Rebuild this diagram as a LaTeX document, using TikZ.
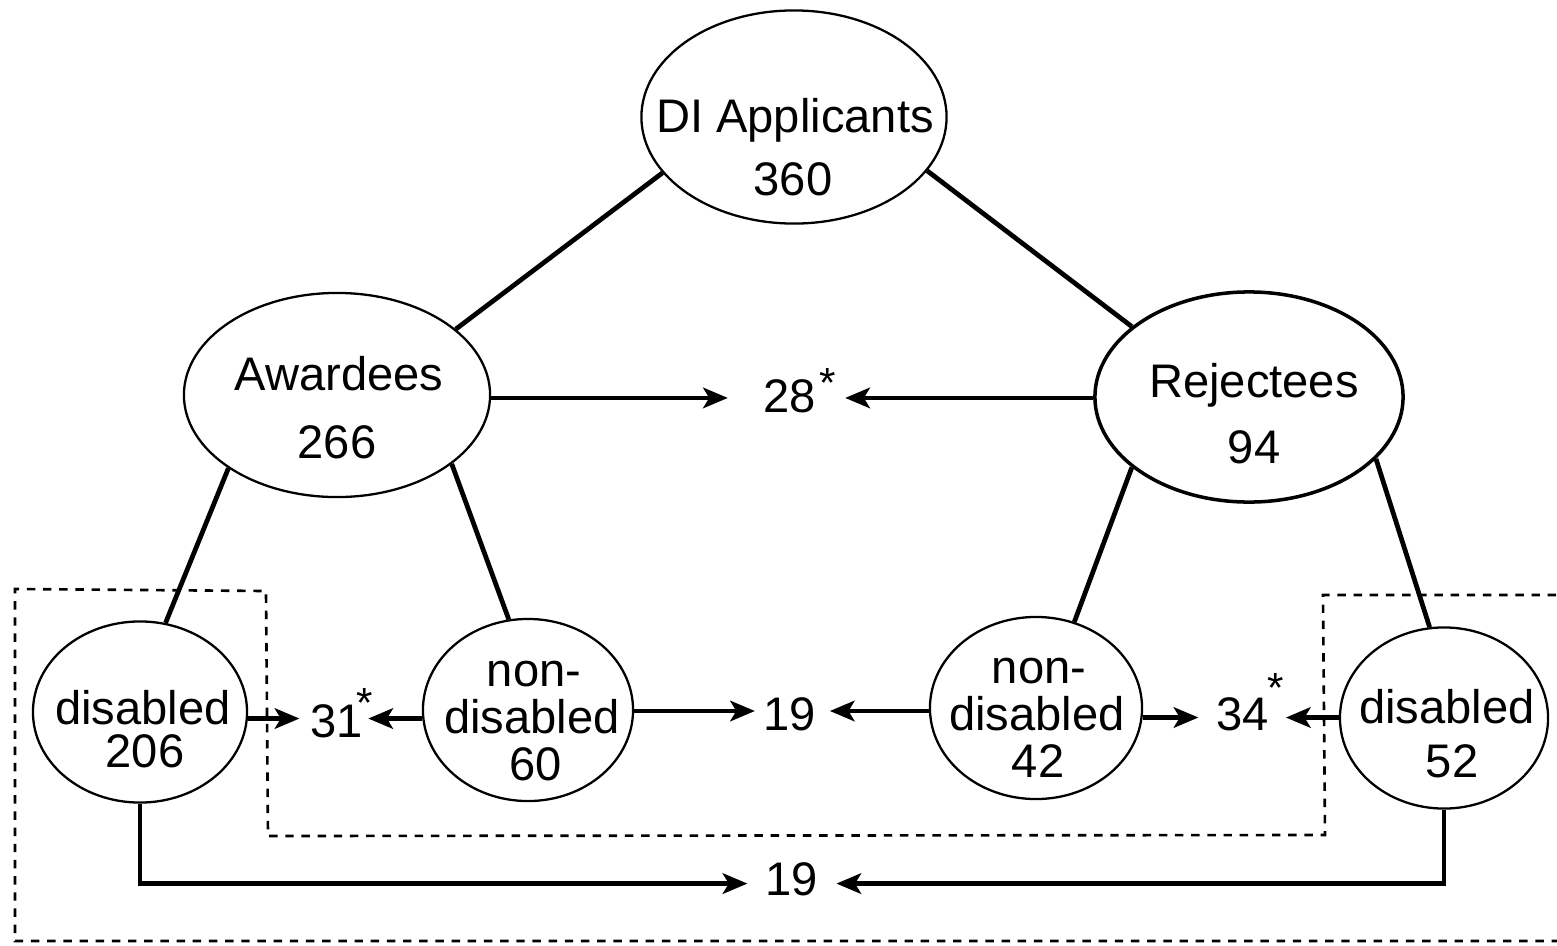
\documentclass[tikz,border=0pt]{standalone}
\usepackage{fontspec}
\setmainfont{Liberation Sans}
\usetikzlibrary{shapes.geometric,arrows.meta}
\newcommand{\supst}[2]{\kern#2\raisebox{#1}{\fontsize{12}{12}\selectfont *}}
\begin{document}
\begin{tikzpicture}[x=0.01cm,y=-0.01cm,
  ell/.style={ellipse,draw,line width=0.65pt,inner sep=0pt},
  lbl/.style={anchor=base,inner sep=0pt,font=\fontsize{13.4}{15}\selectfont},
  num/.style={anchor=base west,inner sep=0pt,font=\fontsize{13.4}{15}\selectfont,text depth=0pt},
  conn/.style={line width=1.35pt},
  arr/.style={line width=1.35pt,-{Stealth[length=7pt,width=5.8pt,inset=1.7pt]}},
  dashbox/.style={line width=0.75pt,dash pattern=on 2.4pt off 2.2pt}]
\useasboundingbox (0,0) rectangle (1557,945);

% ellipses
\node[ell,minimum width=3.05cm,minimum height=2.13cm] (di) at (794,117) {};
\node[ell,minimum width=3.06cm,minimum height=2.04cm] (aw) at (337,395) {};
\node[ell,line width=1pt,minimum width=3.08cm,minimum height=2.10cm] (rej) at (1249,397) {};
\node[ell,minimum width=2.14cm,minimum height=1.81cm] (d206) at (140,712) {};
\node[ell,minimum width=2.10cm,minimum height=1.82cm] (nd60) at (528,710) {};
\node[ell,minimum width=2.12cm,minimum height=1.82cm] (nd42) at (1036,708) {};
\node[ell,minimum width=2.08cm,minimum height=1.81cm] (d52) at (1444,718) {};

% labels inside ellipses
\node[lbl] (tdi1) at (795,132) {DI Applicants};
\node[lbl] (tdi2) at (793,195) {360};
\node[lbl] (taw1) at (339,390) {Awardees};
\node[lbl] (taw2) at (337,458) {266};
\node[lbl] (trej1) at (1254,397) {Rejectees};
\node[lbl] (trej2) at (1254,463) {94};
\node[lbl] (tnd60a) at (534,686) {non-};
\node[lbl] (tnd60b) at (532,733) {disabled};
\node[lbl] (tnd60c) at (536,780) {60};
\node[lbl] (tnd42a) at (1039,683) {non-};
\node[lbl] (tnd42b) at (1037,730) {disabled};
\node[lbl] (tnd42c) at (1038,777) {42};
\node[lbl] (td206a) at (143,724) {disabled};
\node[lbl] (td206b) at (145,767) {206};
\node[lbl] (td52a) at (1447,723) {disabled};
\node[lbl] (td52b) at (1452,777) {52};

% number nodes
\node[num,text height=8pt] (n28) at (763,412) {28\supst{4.2pt}{1.1pt}};
\node[num,text height=10.5pt] (n31) at (310,737) {31\supst{5.6pt}{-1.9pt}};
\node[num,text height=7.1pt] (n34) at (1216,730) {34\supst{7.8pt}{-0.6pt}};
\node[num,text height=10.8pt] (n19a) at (763,730) {19};
\node[num,text height=6.5pt] (n19b) at (765,895) {19};

% tree connectors
\draw[conn] (di.203) -- (aw.29);
\draw[conn] (di.338) -- (rej.149);
\draw[conn] (aw.214) -- (d206.74);
\draw[conn] (aw.329) -- (nd60.102);
\draw[conn] (rej.211) -- (nd42.66);
\draw[conn] (rej.334) -- (d52.99);

% arrows
\draw[arr,shorten >=10pt] (aw.east |- n28) -- (n28);
\draw[arr,shorten >=2.3pt] (rej.west |- n28) -- (n28);
\draw[arr,shorten >=3pt] (d206.east |- n31) -- (n31);
\draw[arr,shorten >=-1.5pt] (nd60.west |- n31) -- (n31);
\draw[arr,shorten >=2.3pt] (nd60.east |- n19a) -- (n19a);
\draw[arr,shorten >=3.7pt] (nd42.west |- n19a) -- (n19a);
\draw[arr,shorten >=5pt] (nd42.east |- n34) -- (n34);
\draw[arr,shorten >=0.5pt] (d52.west |- n34) -- (n34);
\draw[arr,shorten >=5pt] (d206.south) -- (d206.south |- n19b) -- (n19b);
\draw[arr,shorten >=5pt] (d52.south) -- (d52.south |- n19b) -- (n19b);

% dashed groups
\draw[dashbox] (1560,941) -- (15,941) -- (15,589) -- (266,591) -- (268,836) -- (1325,835) -- (1323,595) -- (1560,595);
\end{tikzpicture}
\end{document}
